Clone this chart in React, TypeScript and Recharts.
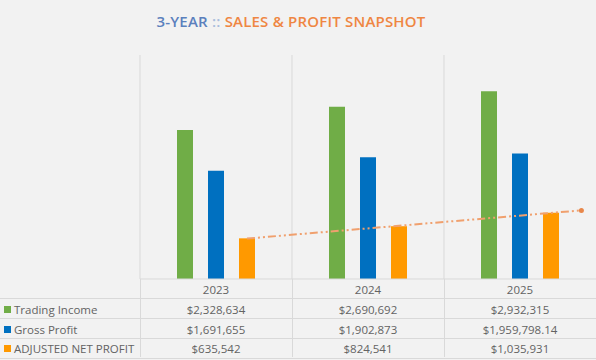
import { ComposedChart, Bar, Line, XAxis, YAxis, CartesianGrid } from 'recharts'

const years = ['2023', '2024', '2025']
const tradingIncome = [2328634, 2690692, 2932315]
const grossProfit = [1691655, 1902873, 1959798.14]
const netProfit = [635542, 824541, 1035931]

const seriesNames = ['Trading Income', 'Gross Profit', 'ADJUSTED NET PROFIT']
const seriesColors = ['#70ad47', '#0070c0', '#ff9900']

const W = 596
const H = 360
const PLOT_LEFT = 140
const PLOT_TOP = 55
const PLOT_BOTTOM = 279
const HEADER_H = 19
const ROW_H = [20, 20, 19]
const BAR_SIZE = 16
const BAR_GAP = 15
const FONT = '"Open Sans", "Noto Sans", sans-serif'

const data = years.map((year, i) => ({
  year,
  trading: tradingIncome[i],
  gross: grossProfit[i],
  net: netProfit[i],
}))

// linear trendline (least squares) on the net profit series, forecast 0.2 period forward
const n = netProfit.length
const meanX = (n - 1) / 2
const meanY = netProfit.reduce((a, b) => a + b, 0) / n
let sxy = 0
let sxx = 0
netProfit.forEach((v, i) => {
  sxy += (i - meanX) * (v - meanY)
  sxx += (i - meanX) * (i - meanX)
})
const slope = sxy / sxx
const intercept = meanY - slope * meanX
const forward = 0.2
const catWidth = (W - PLOT_LEFT) / years.length
const orangeOffset = (BAR_SIZE + BAR_GAP) / catWidth
const trendData = [0, n - 1 + forward].map((t) => ({
  x: 0.5 + orangeOffset + t,
  v: intercept + slope * t,
}))

const fmt = (v: number) =>
  '$' + v.toLocaleString('en-US', { maximumFractionDigits: 2 })

const rows = [tradingIncome, grossProfit, netProfit]

const EndDot = (props: any) => {
  const { cx, cy, index } = props
  if (index !== trendData.length - 1) return <g key={index} />
  return <circle key={index} cx={cx} cy={cy} r={2.5} fill="#e8874a" />
}

const DataTable = () => {
  const border = '1px solid #d9d9d9'
  let top = PLOT_BOTTOM + HEADER_H
  return (
    <div style={{ position: 'absolute', left: 0, top: 0, width: W, height: H, pointerEvents: 'none' }}>
      {/* vertical separators through header + rows */}
      {years.map((y, i) => (
        <div
          key={y}
          style={{
            position: 'absolute',
            left: PLOT_LEFT + i * catWidth,
            top: PLOT_BOTTOM,
            width: 0,
            height: H - 3 - PLOT_BOTTOM,
            borderLeft: border,
          }}
        />
      ))}
      {rows.map((vals, r) => {
        const rowTop = top
        top += ROW_H[r]
        return (
          <div
            key={r}
            style={{
              position: 'absolute',
              left: 0,
              top: rowTop,
              width: W,
              height: ROW_H[r],
              borderTop: border,
              borderBottom: r === rows.length - 1 ? border : undefined,
              fontFamily: FONT,
              fontSize: 11.5,
              color: '#636363',
            }}
          >
            <div
              style={{
                position: 'absolute',
                left: 4,
                top: 0,
                height: ROW_H[r],
                display: 'flex',
                alignItems: 'center',
                whiteSpace: 'nowrap',
              }}
            >
              <span
                style={{
                  display: 'inline-block',
                  width: 7,
                  height: 7,
                  background: seriesColors[r],
                  marginRight: 3,
                }}
              />
              {seriesNames[r]}
            </div>
            {vals.map((v, i) => (
              <div
                key={i}
                style={{
                  position: 'absolute',
                  left: PLOT_LEFT + i * catWidth,
                  width: catWidth,
                  top: 0,
                  height: ROW_H[r],
                  display: 'flex',
                  alignItems: 'center',
                  justifyContent: 'center',
                }}
              >
                {fmt(v)}
              </div>
            ))}
          </div>
        )
      })}
    </div>
  )
}

export default function App() {
  return (
    <div
      style={{
        position: 'absolute',
        left: 0,
        top: 0,
        width: W,
        height: H,
        background: '#f2f2f2',
        overflow: 'hidden',
      }}
    >
      <div
        style={{
          position: 'absolute',
          left: 0,
          width: W - 14,
          top: 11,
          textAlign: 'center',
          fontFamily: FONT,
          fontWeight: 600,
          fontSize: 15,
          letterSpacing: 0.2,
        }}
      >
        <span style={{ color: '#5b80bd' }}>3-YEAR</span>
        <span style={{ color: '#a8bcdc' }}> :: </span>
        <span style={{ color: '#ef8642' }}>SALES &amp; PROFIT SNAPSHOT</span>
      </div>
      <div style={{ position: 'absolute', left: 0, top: 0 }}>
        <ComposedChart
          width={W}
          height={PLOT_BOTTOM + HEADER_H}
          data={data}
          margin={{ top: PLOT_TOP, right: 0, left: PLOT_LEFT, bottom: 0 }}
          barSize={BAR_SIZE}
          barGap={BAR_GAP}
        >
          <CartesianGrid
            horizontal={false}
            stroke="#d9d9d9"
            verticalCoordinatesGenerator={({ offset }: any) =>
              years.map((_, i) => offset.left + (i * offset.width) / years.length)
            }
          />
          <XAxis
            dataKey="year"
            height={HEADER_H}
            axisLine={{ stroke: '#d9d9d9' }}
            tickLine={false}
            tick={{ fill: '#636363', fontSize: 11.5, fontFamily: FONT }}
            tickMargin={1}
            interval={0}
          />
          <XAxis xAxisId="trend" type="number" dataKey="x" domain={[0, years.length]} allowDataOverflow hide />
          <YAxis hide domain={[0, 3500000]} />
          <Bar dataKey="trading" fill={seriesColors[0]} isAnimationActive={false} />
          <Bar dataKey="gross" fill={seriesColors[1]} isAnimationActive={false} />
          <Bar dataKey="net" fill={seriesColors[2]} isAnimationActive={false} />
          <Line
            data={trendData}
            xAxisId="trend"
            dataKey="v"
            type="linear"
            stroke="#f0a06e"
            strokeWidth={2}
            strokeDasharray="8 3 2 3 2 3"
            dot={<EndDot />}
            activeDot={false}
            isAnimationActive={false}
          />
        </ComposedChart>
      </div>
      <DataTable />
    </div>
  )
}
